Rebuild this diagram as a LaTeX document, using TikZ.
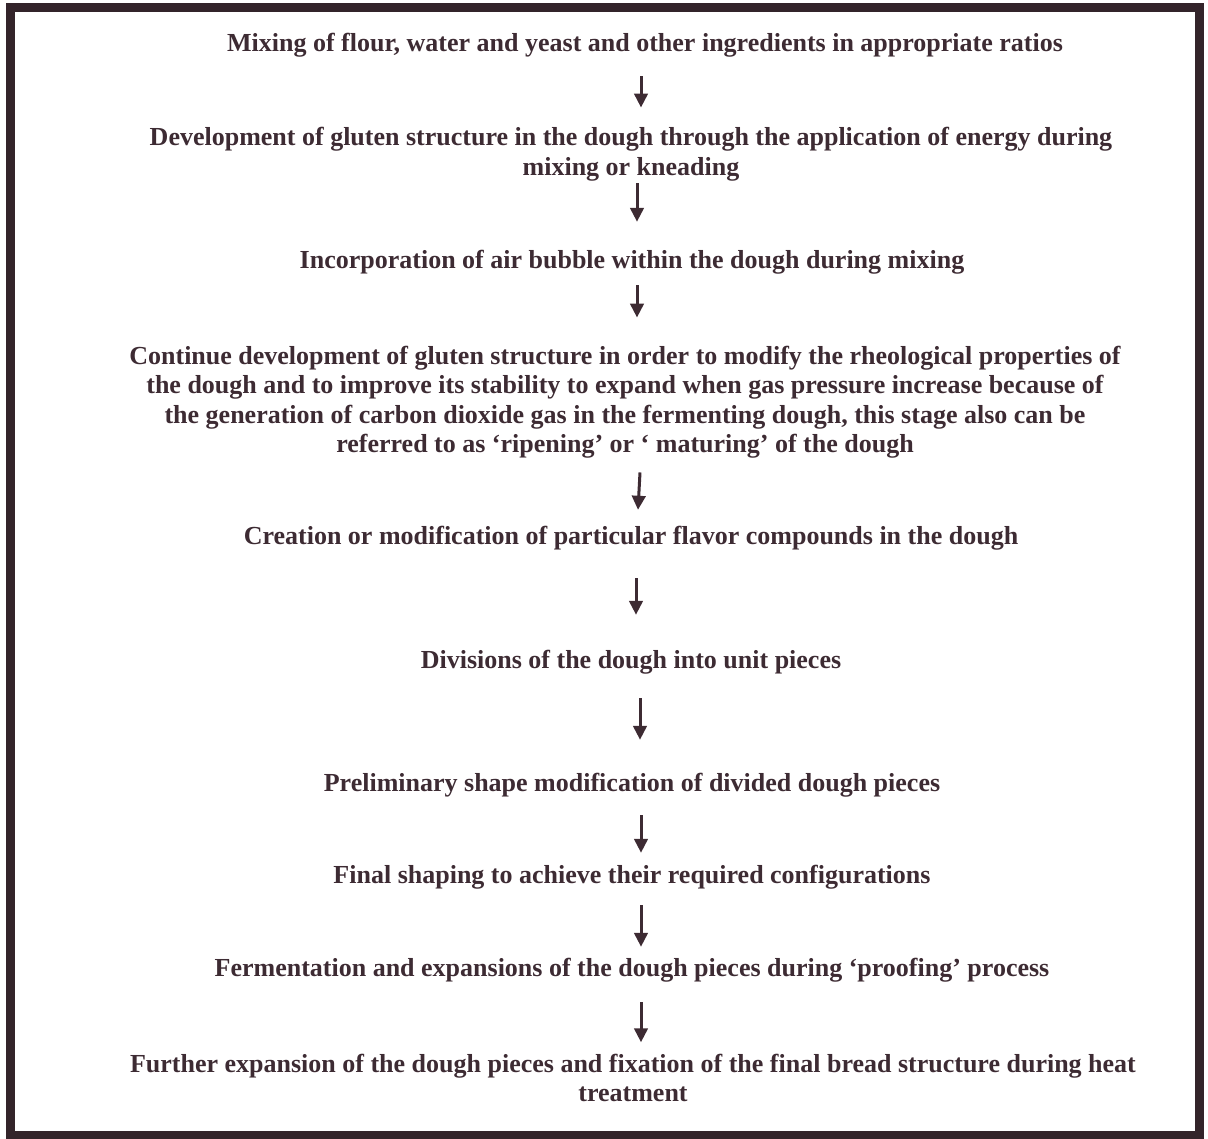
\documentclass[tikz,border=0pt]{standalone}
\usepackage{fontspec}
\setmainfont{Liberation Serif}
\usetikzlibrary{arrows.meta}
\definecolor{ink}{HTML}{3D2B33}
\definecolor{frame}{HTML}{33242A}
\newcommand\stepflow[6]{\draw[flow] ([xshift=#3,yshift=#4]#1.south) -- ([xshift=#5,yshift=#6]#2.north);}
\begin{document}
\begin{tikzpicture}[x=1pt,y=-1pt,
  stepnode/.style={text=ink,align=center,inner sep=0pt,font=\fontsize{26}{29.5}\selectfont\bfseries},
  flow/.style={draw=ink,line width=3pt,-{Triangle[width=13.5pt,length=14pt]}}]
\useasboundingbox (0,0) rectangle (1208,1139);
\draw[frame,line width=9pt] (10,8) rectangle (1199,1135);
\node[stepnode] (n1) at (645,45) {Mixing of flour, water and yeast and other ingredients in appropriate ratios};
\node[stepnode] (n2) at (631,154) {Development of gluten structure in the dough through the application of energy during\\mixing or kneading};
\node[stepnode] (n3) at (632,262) {Incorporation of air bubble within the dough during mixing};
\node[stepnode] (n4) at (625,402) {Continue development of gluten structure in order to modify the rheological properties of\\the dough and to improve its stability to expand when gas pressure increase because of\\the generation of carbon dioxide gas in the fermenting dough, this stage also can be\\referred to as ‘ripening’ or ‘ maturing’ of the dough};
\node[stepnode] (n5) at (631,538) {Creation or modification of particular flavor compounds in the dough};
\node[stepnode] (n6) at (631,662) {Divisions of the dough into unit pieces};
\node[stepnode] (n7) at (632,785) {Preliminary shape modification of divided dough pieces};
\node[stepnode] (n8) at (632,877) {Final shaping to achieve their required configurations};
\node[stepnode] (n9) at (632,970) {Fermentation and expansions of the dough pieces during ‘proofing’ process};
\node[stepnode] (n10) at (633,1078) {Further expansion of the dough pieces and fixation of the final bread structure during heat\\treatment};
\stepflow{n1}{n2}{-4pt}{-19pt}{10pt}{19.5pt}
\stepflow{n2}{n3}{6pt}{-2.5pt}{5pt}{28pt}
\stepflow{n3}{n4}{5pt}{-11pt}{12pt}{28pt}
\stepflow{n4}{n5}{15pt}{-14pt}{7pt}{16pt}
\stepflow{n5}{n6}{5pt}{-28pt}{5pt}{35pt}
\stepflow{n6}{n7}{9pt}{-24pt}{8pt}{33pt}
\stepflow{n7}{n8}{9pt}{-18pt}{9pt}{12pt}
\stepflow{n8}{n9}{9pt}{-16pt}{9pt}{11pt}
\stepflow{n9}{n10}{9pt}{-20pt}{8pt}{11.5pt}
\end{tikzpicture}
\end{document}
